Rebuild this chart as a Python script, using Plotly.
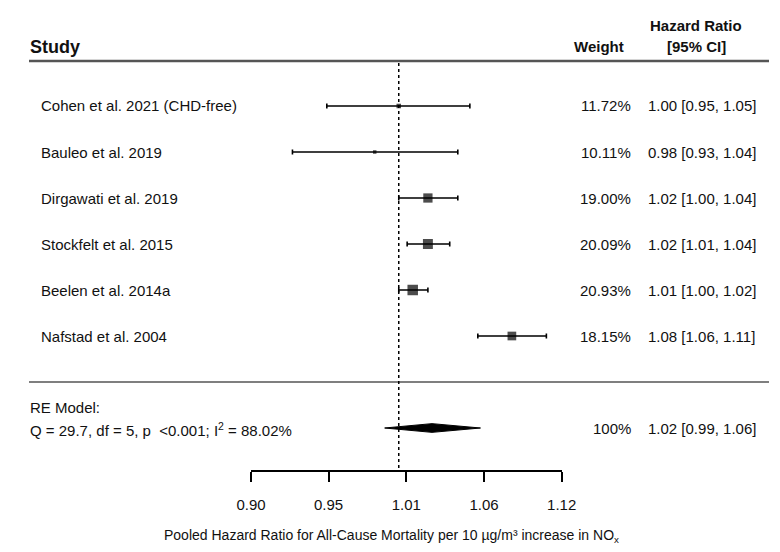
import numpy as np
import plotly.graph_objects as go

# ---------------- data ----------------
studies = ["Cohen et al. 2021 (CHD-free)", "Bauleo et al. 2019", "Dirgawati et al. 2019",
           "Stockfelt et al. 2015", "Beelen et al. 2014a", "Nafstad et al. 2004"]
hr = [1.000, 0.983, 1.021, 1.021, 1.010, 1.084]
ci_lo = [0.950, 0.927, 1.000, 1.006, 1.000, 1.058]
ci_hi = [1.052, 1.043, 1.043, 1.037, 1.021, 1.111]
weights = [11.72, 10.11, 19.00, 20.09, 20.93, 18.15]

pooled_hr = 1.024
pooled_lo = 0.990
pooled_hi = 1.060
pooled_weight = "100%"
q_stat = 29.7
q_df = 5
p_text = "<0.001"
i2 = 88.02

tick_vals = [0.9, 0.9512, 1.0054, 1.0627, 1.1232]
tick_labels = ["0.90", "0.95", "1.01", "1.06", "1.12"]
x_title = "Pooled Hazard Ratio for All-Cause Mortality per 10 µg/m³ increase in NO<sub>x</sub>"

# ---------------- layout helpers ----------------
# the page body has an 8px margin, so the figure is sized to fit the 780x552 window
OX, OY = 8, 8
W, H = 780 - 2 * OX, 552 - 2 * OY
FONT = "Liberation Sans, Arial, sans-serif"
TXT = "#111111"

def py(p):      # window pixel row -> paper y
    return (H - (p - OY)) / H

def px(p):      # window pixel column -> paper x
    return (p - OX) / W

def row_of(p):  # window pixel row -> data row
    return 1 + (p - 106) / 46.0

rows = list(range(1, len(studies) + 1))
pooled_row = 8
sep_row = 7

w = np.array(weights)
psize = 0.5 + (w - w.min()) / (w.max() - w.min())
marker_sizes = list(7.0 * psize)

fig = go.Figure()

# study estimates with CIs
fig.add_trace(go.Scatter(
    x=hr, y=rows, mode="markers",
    marker=dict(symbol="square", size=marker_sizes, color="black", line=dict(width=0)),
    error_x=dict(type="data", symmetric=False,
                 array=[h - m for h, m in zip(ci_hi, hr)],
                 arrayminus=[m - l for m, l in zip(hr, ci_lo)],
                 color="black", thickness=1.6, width=2.5),
    cliponaxis=False, hoverinfo="skip"))

# pooled diamond
dh = 0.095
fig.add_trace(go.Scatter(
    x=[pooled_lo, pooled_hr, pooled_hi, pooled_hr, pooled_lo],
    y=[pooled_row, pooled_row - dh, pooled_row, pooled_row + dh, pooled_row],
    mode="lines", fill="toself", fillcolor="black",
    line=dict(color="black", width=1), cliponaxis=False, hoverinfo="skip"))

shapes = [
    # reference line at HR = 1
    dict(type="line", xref="x", yref="y", x0=1, x1=1, y0=row_of(63), y1=row_of(468),
         line=dict(color="black", width=1.5, dash="dot")),
    # header rule
    dict(type="line", xref="paper", yref="paper", x0=px(29), x1=px(769), y0=py(61), y1=py(61),
         line=dict(color="#555555", width=2.5)),
    # separator rule
    dict(type="line", xref="paper", yref="y", x0=px(29), x1=px(769), y0=sep_row, y1=sep_row,
         line=dict(color="black", width=1.2)),
]

ann = []
def add_text(text, x, y, xanchor="left", yref="y", size=15, bold=False):
    if bold:
        text = "<b>" + text + "</b>"
    ann.append(dict(text=text, x=x, y=y, xref="paper", yref=yref, xanchor=xanchor,
                    yanchor="middle", showarrow=False, borderpad=0,
                    font=dict(family=FONT, size=size, color=TXT)))

# headers
add_text("Study", px(29), py(47), yref="paper", size=18, bold=True)
add_text("Weight", px(573), py(47), yref="paper", size=15, bold=True)
add_text("Hazard Ratio", px(696), py(25), xanchor="center", yref="paper", size=15, bold=True)
add_text("[95% CI]", px(696), py(47), xanchor="center", yref="paper", size=15, bold=True)

# rows
for r, s, wt, h, l, u in zip(rows, studies, weights, hr, ci_lo, ci_hi):
    add_text(s, px(40), r)
    add_text(f"{wt:.2f}%", px(632), r, xanchor="right")
    add_text(f"{h:.2f} [{l:.2f}, {u:.2f}]", px(647), r)

# pooled row
add_text("RE Model:", px(29), py(407), yref="paper")
add_text(f"Q = {q_stat}, df = {q_df}, p  {p_text}; I<sup>2</sup> = {i2:.2f}%", px(29), py(429), yref="paper")
add_text(pooled_weight, px(632), pooled_row, xanchor="right")
add_text(f"{pooled_hr:.2f} [{pooled_lo:.2f}, {pooled_hi:.2f}]", px(647), pooled_row)

# x title
add_text(x_title, px(391), py(536), xanchor="center", yref="paper", size=14)

fig.update_layout(
    width=W, height=H, autosize=False, margin=dict(l=0, r=0, t=0, b=0, pad=0),
    paper_bgcolor="white", plot_bgcolor="white", showlegend=False,
    shapes=shapes, annotations=ann,
    xaxis=dict(type="log", domain=[px(251), px(561.7)],
               range=[np.log10(tick_vals[0]), np.log10(tick_vals[-1])],
               tickvals=tick_vals, ticktext=tick_labels, automargin=False,
               showgrid=False, zeroline=False, showline=True, linecolor="black", linewidth=1.5,
               ticks="outside", ticklen=10, tickwidth=1.5, tickcolor="black",
               ticklabelstandoff=10,
               tickfont=dict(family=FONT, size=15, color=TXT), fixedrange=True),
    yaxis=dict(domain=[py(470), py(61)], range=[row_of(470), row_of(61)], automargin=False,
               visible=False, showgrid=False, zeroline=False, fixedrange=True),
)

fig.write_html("out.html")
